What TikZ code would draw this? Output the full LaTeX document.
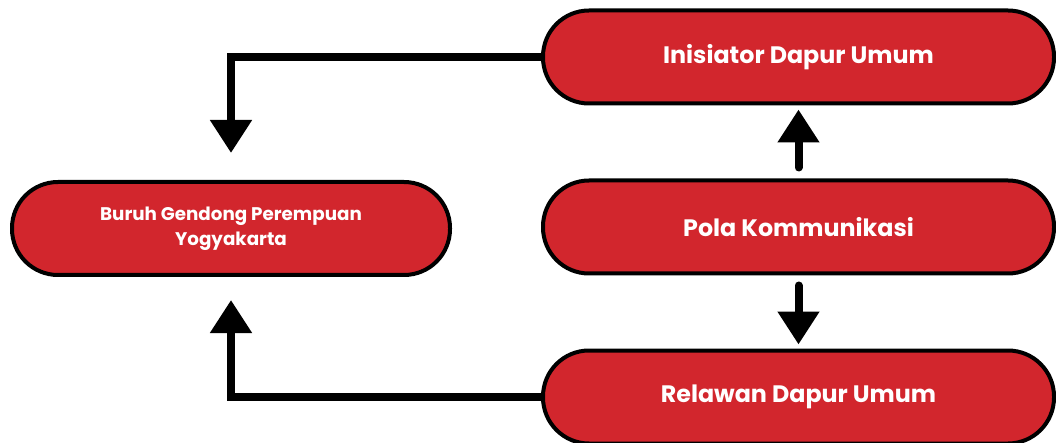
\documentclass[tikz,border=0pt]{standalone}
\usepackage{fontspec}
\setmainfont{Poppins}
\usetikzlibrary{arrows.meta}
\definecolor{boxred}{RGB}{210,38,45}
\tikzset{
  pill/.style={draw=black, line width=4pt, fill=boxred, rounded corners=46pt,
    minimum height=93pt, text=white, font=\bfseries\fontsize{23.8}{28}\selectfont, align=center, inner sep=0pt},
  conn/.style={line width=8pt, -{Triangle[width=40pt,length=33pt]}},
}
\begin{document}
\begin{tikzpicture}[x=1pt,y=-1pt]
\useasboundingbox (0,0) rectangle (1056,443);
\node[pill, minimum width=511pt] (top) at (798.5,57) {Inisiator Dapur Umum};
\node[pill, minimum width=511pt] (mid) at (798.5,227) {Pola Kommunikasi};
\node[pill, minimum width=511pt] (bot) at (798.5,397) {Relawan Dapur Umum};
\node[pill, minimum width=438pt, font=\bfseries\fontsize{18.3}{25}\selectfont] (left) at (231,228.5) {Buruh Gendong Perempuan\\Yogyakarta};
\coordinate (a1) at (231,153);
\coordinate (a2) at (231,300);
\draw[conn] (top.west) -| (a1);
\draw[conn] (bot.west) -| (a2);
\draw[conn, line cap=round, shorten <=11pt, shorten >=4pt] (mid.north) -- (top.south);
\draw[conn, line cap=round, shorten <=10pt, shorten >=4pt] (mid.south) -- (bot.north);
\end{tikzpicture}
\end{document}
